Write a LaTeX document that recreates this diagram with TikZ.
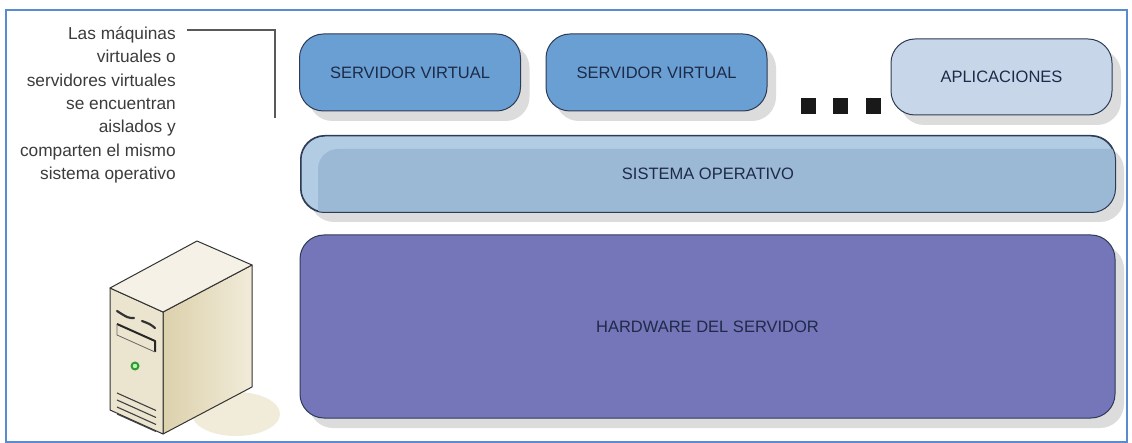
\documentclass[tikz,border=0pt]{standalone}
\usepackage{fontspec}
\setmainfont{Liberation Sans}
\usepackage{xcolor}
\usepackage{tikz}
\usetikzlibrary{positioning,shadows}

\definecolor{frameblue}{HTML}{5A8AD0}
\definecolor{virtblue}{HTML}{6A9FD4}
\definecolor{appblue}{HTML}{C8D6EA}
\definecolor{soblue}{HTML}{B2CCE4}
\definecolor{sodark}{HTML}{9BB8D5}
\definecolor{hwpurple}{HTML}{7575B9}
\definecolor{edgeblue}{HTML}{2E3B55}
\definecolor{labelnavy}{HTML}{1E2B48}
\definecolor{notegray}{HTML}{3C3C3C}
\definecolor{caseface}{HTML}{EBE4CF}
\definecolor{casetop}{HTML}{F5F1E6}
\definecolor{caseside}{HTML}{DCD1AC}
\definecolor{caselight}{HTML}{F1EBD9}
\definecolor{casefloor}{HTML}{F1EBDA}

\tikzset{
  layer/.style={rounded corners=24pt, draw=edgeblue, line width=1pt,
    text=labelnavy, font=\fontsize{16.5}{18}\selectfont,
    drop shadow={shadow xshift=9pt, shadow yshift=-10pt, fill=black!30, opacity=0.45}},
  virt/.style={layer, fill=virtblue, minimum width=221pt, minimum height=77pt},
  apps/.style={layer, fill=appblue, minimum width=221pt, minimum height=76pt},
  sysop/.style={layer, fill=soblue, minimum width=814pt, minimum height=76pt},
  hardware/.style={layer, fill=hwpurple, minimum width=815pt, minimum height=183pt},
  dotbox/.style={fill=black!90, minimum width=15pt, minimum height=16pt, inner sep=0pt},
  note/.style={align=right, text=notegray, inner sep=0pt,
    font=\fontsize{17.3}{23.3}\selectfont},
  casepart/.style={draw=black!80, line width=1pt, line join=round}
}

\begin{document}
\begin{tikzpicture}[x=1pt,y=-1pt]
\useasboundingbox (0,0) rectangle (1132,443);
\fill[white] (0,0) rectangle (1132,443);
\draw[frameblue, line width=1.5pt] (6,10) rectangle (1127,442);

% layers
\node[hardware] (hw) at (707.5,326.5) {HARDWARE DEL SERVIDOR};
\node[sysop] (so) at (708,174) {};
\begin{scope}
  \clip[rounded corners=24pt] (so.south west) rectangle (so.north east);
  \fill[sodark, rounded corners=20pt] (318,149) rectangle (1130,230);
\end{scope}
\draw[edgeblue, line width=1pt, rounded corners=24pt] (so.south west) rectangle (so.north east);
\node[text=labelnavy, font=\fontsize{16.5}{18}\selectfont] (sotext) at (so) {SISTEMA OPERATIVO};
\node[virt] (vm1) at (410,72.5) {SERVIDOR VIRTUAL};
\node[virt] (vm2) at (656.5,72.5) {SERVIDOR VIRTUAL};
\node[apps] (app) at (1001.5,77) {APLICACIONES};

% three dots
\node[dotbox] (d1) at (808,106.5) {};
\node[dotbox, right=17pt of d1] (d2) {};
\node[dotbox, right=18pt of d2] (d3) {};

% note on the left
\node[note, anchor=east] (note) at (176,105) {Las máquinas\\virtuales o\\servidores virtuales\\se encuentran\\aislados y\\comparten el mismo\\sistema operativo};
\coordinate (cstart) at (187,30);
\coordinate (ccorner) at (275,30);
\coordinate (cend) at (275,118);
\draw[black!65, line width=1.5pt] (cstart) -- (ccorner) -- (cend);

% server tower
\coordinate (ftl) at (110,288);
\coordinate (ftr) at (163,312);
\coordinate (fbl) at (110,410);
\coordinate (fbr) at (163,434);
\coordinate (btl) at (197,241);
\coordinate (rtr) at (252,265);
\coordinate (rbr) at (252,387);
\fill[casefloor] (236,414) ellipse (44pt and 22pt);
\shade[left color=caseside, right color=caselight] (ftr) -- (rtr) -- (rbr) -- (fbr) -- cycle;
\draw[casepart] (ftr) -- (rtr) -- (rbr) -- (fbr) -- cycle;
\draw[casepart, fill=caseface] (ftl) -- (ftr) -- (fbr) -- (fbl) -- cycle;
\draw[casepart, fill=casetop] (ftl) -- (btl) -- (rtr) -- (ftr) -- cycle;
% drive bays
\draw[black!80, line width=2.2pt, line cap=round] (117,311) .. controls (128,318) .. (134,318);
\draw[black!80, line width=2.2pt, line cap=round] (142,321) .. controls (150,324) .. (155,328);
\draw[black!85, line width=2pt, line join=round] (117,324) -- (155,341) -- (155,352);
\draw[black!60, line width=0.8pt] (117,324) -- (117,335) -- (155,352);
% power button
\fill[green!50!black!80] (135,366) circle (4.5pt);
\fill[green!30!white] (135,366) circle (2.2pt);
% vents
\foreach \vy in {393,400,407,414}
  \draw[black!75, line width=1.1pt] (117,\vy) -- (156,\vy+17.5);
\end{tikzpicture}
\end{document}
